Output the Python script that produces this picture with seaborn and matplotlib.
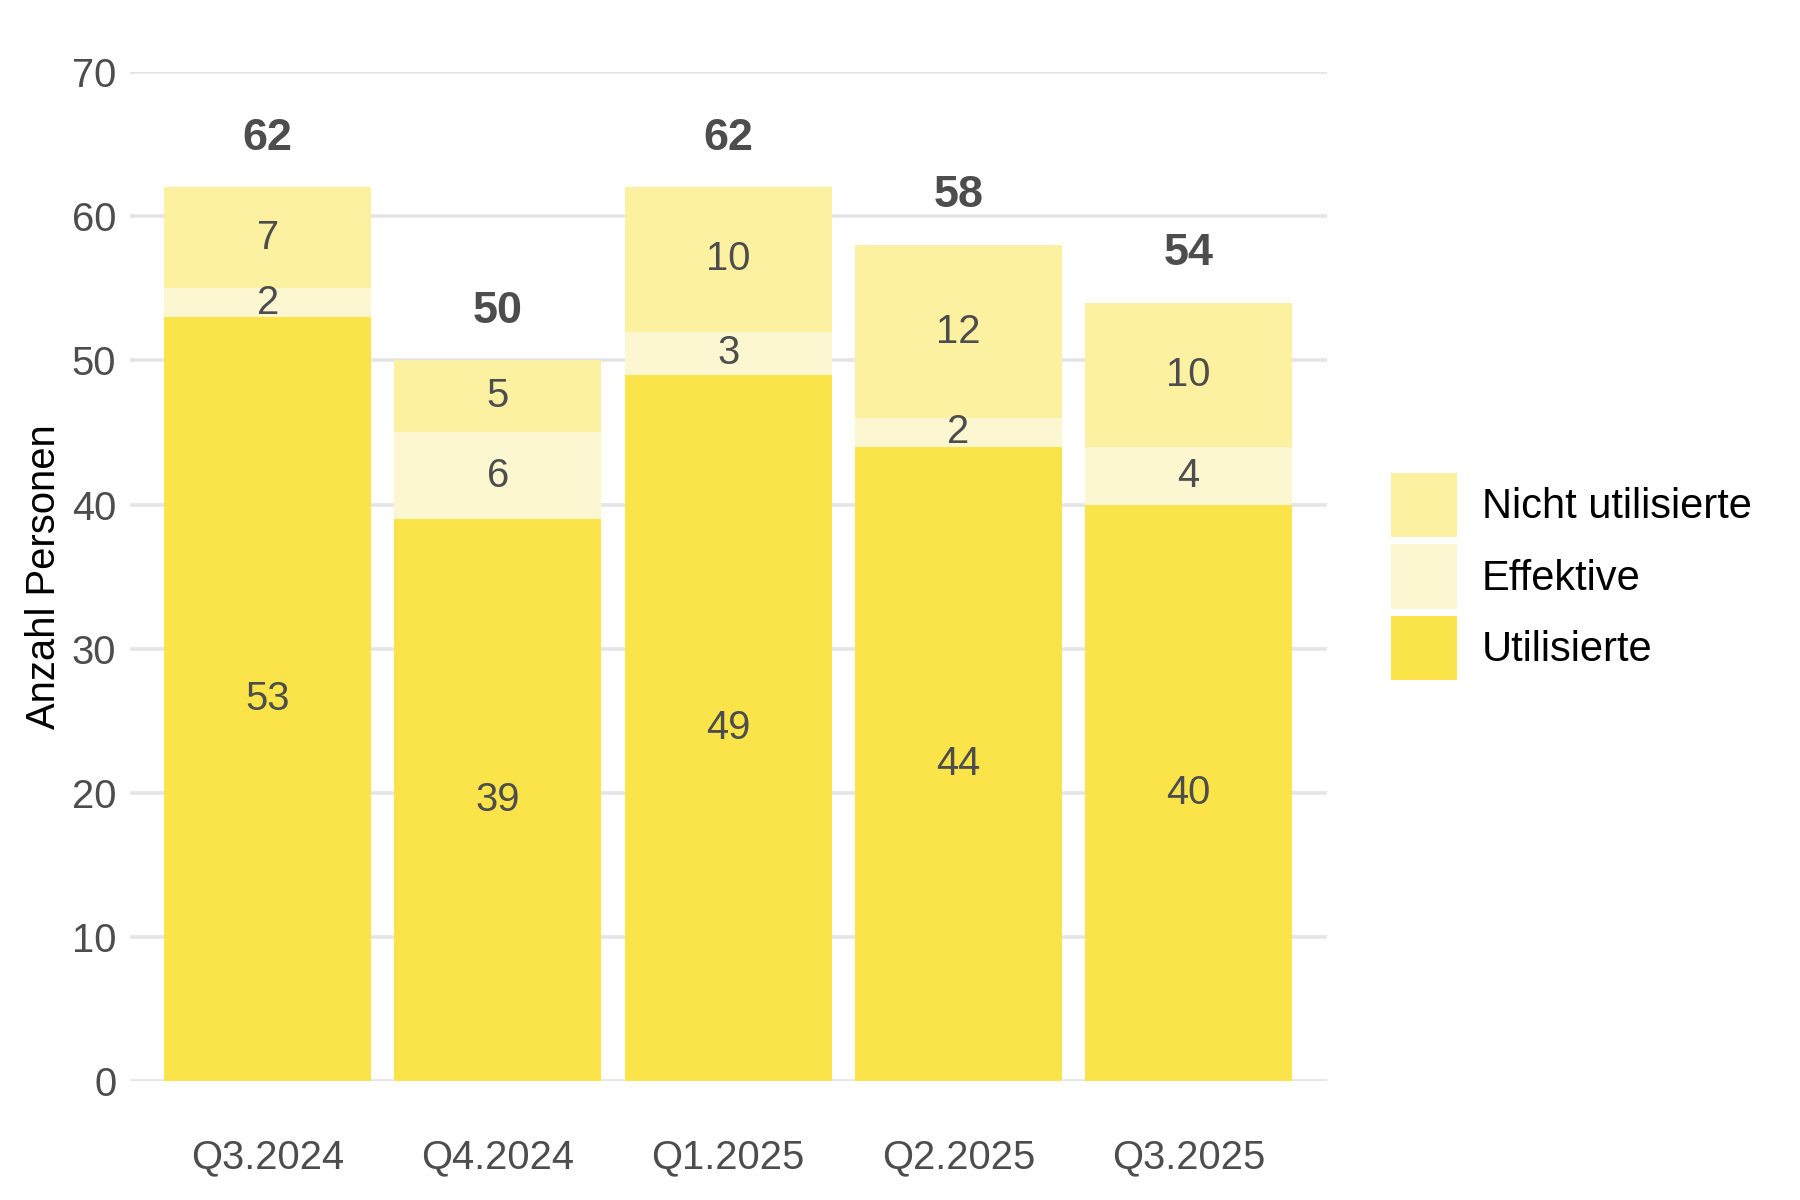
import matplotlib
matplotlib.use("Agg")
import matplotlib.pyplot as plt
import seaborn as sns
import numpy as np
import pandas as pd

quarters = ["Q3.2024", "Q4.2024", "Q1.2025", "Q2.2025", "Q3.2025"]
utilisierte = [53, 39, 49, 44, 40]
effektive = [2, 6, 3, 2, 4]
nicht_utilisierte = [7, 5, 10, 12, 10]

series_names = ["Utilisierte", "Effektive", "Nicht utilisierte"]
series_values = [utilisierte, effektive, nicht_utilisierte]
series_colors = ["#FBE449", "#FDF7D1", "#FCF1A0"]

sns.set_theme(style="white")
plt.rcParams['font.family'] = ['Liberation Sans', 'DejaVu Sans']

fig = plt.figure(figsize=(15, 10), dpi=120)
ax = fig.add_axes([0.072, 0.099, 0.665, 0.841])

text_grey = "#4D4D4D"
bottoms = np.zeros(len(quarters))
for name, vals, col in zip(series_names, series_values, series_colors):
    df = pd.DataFrame({"Quartal": quarters, "Wert": vals})
    sns.barplot(data=df, x="Quartal", y="Wert", bottom=bottoms, color=col,
                width=0.9, saturation=1, ax=ax, label=name, zorder=2,
                linewidth=0, edgecolor="none")
    for i, v in enumerate(vals):
        ax.text(i, bottoms[i] + v / 2, str(v), ha="center", va="center",
                fontsize=24, color=text_grey, zorder=3)
    bottoms = bottoms + np.array(vals)

for i, t in enumerate(bottoms):
    ax.text(i, t + 3.4, str(int(t)), ha="center", va="center",
            fontsize=27, fontweight="bold", color=text_grey, zorder=3)

ax.set_ylim(0, 70)
ax.set_xlim(-0.6, 4.6)
ax.set_yticks(range(0, 71, 10))
ax.yaxis.grid(True, color="#E5E5E5", linewidth=2.2, zorder=0)
ax.xaxis.grid(False)
ax.set_axisbelow(True)
for s in ax.spines.values():
    s.set_visible(False)
ax.tick_params(axis="both", length=0, labelsize=24, colors=text_grey, pad=8)
ax.tick_params(axis="x", pad=34)
ax.set_xlabel("")
ax.set_ylabel("Anzahl Personen", fontsize=24, color="black", labelpad=5)

h, l = ax.get_legend_handles_labels()
leg = ax.legend(h[::-1], l[::-1], loc="center left", bbox_to_anchor=(1.04, 0.5),
                frameon=False, fontsize=25, handlelength=1.58, handleheight=2.0,
                labelspacing=0.17, handletextpad=0.6, borderaxespad=0)
for t in leg.get_texts():
    t.set_color("black")

fig.savefig("out.png", dpi=120, facecolor="white")
